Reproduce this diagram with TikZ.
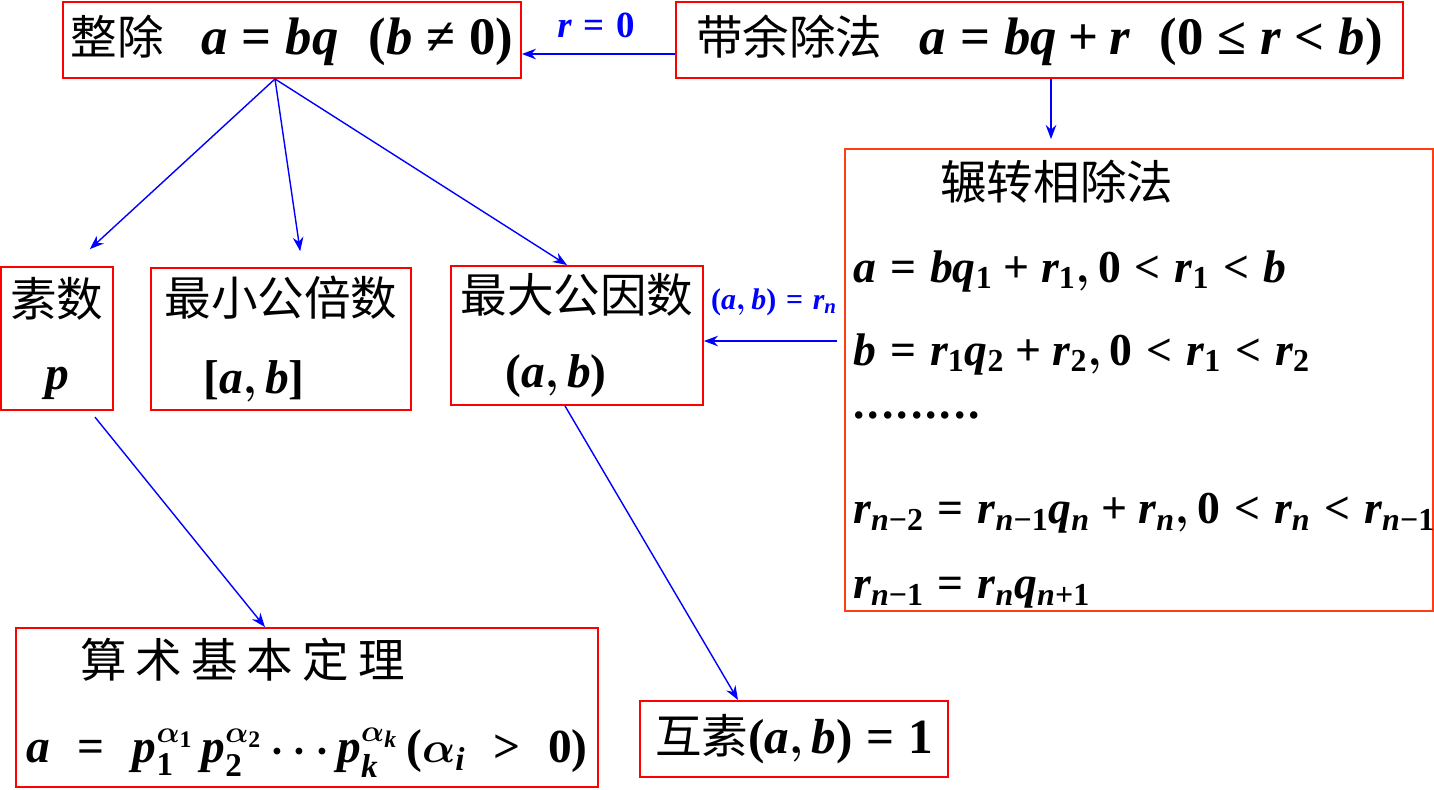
\documentclass[tikz,border=0pt]{standalone}
\usepackage{amsmath}
\usepackage[no-math]{fontspec}
\setmainfont{Liberation Serif}[NFSSFamily=libserif]
\newfontfamily\cjk{Noto Sans CJK SC}
\usetikzlibrary{arrows.meta}
\definecolor{euclidred}{RGB}{255,60,20}
%% Times-like bold math letters, digits and relations
\DeclareSymbolFont{tlet}{TU}{libserif}{bx}{it}
\DeclareSymbolFont{operators}{TU}{libserif}{bx}{n}
\DeclareMathSymbol{a}{\mathalpha}{tlet}{`a}
\DeclareMathSymbol{b}{\mathalpha}{tlet}{`b}
\DeclareMathSymbol{q}{\mathalpha}{tlet}{`q}
\DeclareMathSymbol{r}{\mathalpha}{tlet}{`r}
\DeclareMathSymbol{p}{\mathalpha}{tlet}{`p}
\DeclareMathSymbol{k}{\mathalpha}{tlet}{`k}
\DeclareMathSymbol{n}{\mathalpha}{tlet}{`n}
\DeclareMathSymbol{i}{\mathalpha}{tlet}{`i}
\DeclareMathSymbol{<}{\mathrel}{operators}{`<}
\DeclareMathSymbol{>}{\mathrel}{operators}{`>}
\Umathcode`-="2 \symoperators "2212
\Umathchardef\neq="3 \symoperators "2260
\Umathchardef\le="3 \symoperators "2264
\newcommand\zh[1]{{\cjk\fontsize{26.5}{32}\selectfont #1}}
\newcommand\dt{\textbf{.}\kern0.06cm}

\begin{document}
\begin{tikzpicture}[
    x = 0.02cm, y = -0.02cm,
    >={Stealth[length=8pt, width=6pt]},
    font = \fontsize{27}{32}\selectfont\boldmath,
    %% -- node styles ------------------------------------------
    redbox/.style = {draw=red, line width=1.1pt, inner sep=0pt, align=center},
    lbl/.style    = {text=blue, inner sep=0pt},
    big/.style    = {font=\fontsize{30}{32}\selectfont\boldmath},
    arr/.style    = {->, draw=blue, line width=0.8pt},
    arrtop/.style = {->, draw=blue, line width=1.1pt}
]
\useasboundingbox (0,0) rectangle (1434,789);

%% -- top row ------------------------------------------------
\node[redbox, big, minimum width=9.16cm, minimum height=1.52cm] (divide) at (292,40)
    {\zh{整除}\hspace{0.75cm}$a=bq\hspace{0.6cm}(b\neq 0)$};
\node[redbox, big, minimum width=14.54cm, minimum height=1.52cm] (divrem) at (1039.5,40)
    {\zh{带余除法}\hspace{0.75cm}$a=bq+r\hspace{0.6cm}(0\le r<b)$};
\node[lbl, font=\fontsize{21}{26}\selectfont\boldmath] (rzero) at (596,25) {$r=0$};

%% -- Euclid box ---------------------------------------------
\node[redbox, draw=euclidred, minimum width=11.76cm, minimum height=9.24cm] (euclid) at (1139,380) {};
\node[inner sep=0pt, anchor=north west, align=left, font=\fontsize{26}{32}\selectfont\boldmath]
    (euclidtxt) at (853,160)
    {\hspace*{1.74cm}\zh{辗转相除法}\\[0.52cm]
     $a=bq_1+r_1,0<r_1<b$\\[0.54cm]
     $b=r_1q_2+r_2,0<r_1<r_2$\\[-0.06cm]
     \dt\dt\dt\dt\dt\dt\dt\dt\dt\\[0.98cm]
     $r_{n-2}=r_{n-1}q_n+r_n,0<r_n<r_{n-1}$\\[0.38cm]
     $r_{n-1}=r_nq_{n+1}$};

%% -- middle row ---------------------------------------------
\node[redbox, minimum width=2.24cm, minimum height=2.86cm] (prime) at (57,338.5)
    {\zh{素数}\\[0.32cm]$p$};
\node[redbox, minimum width=5.2cm, minimum height=2.84cm] (lcm) at (281,339)
    {\zh{最小公倍数}\\[0.42cm]$[a,b]$\hspace*{1.08cm}};
\node[redbox, minimum width=5.04cm, minimum height=2.78cm] (gcd) at (577,335.5)
    {\zh{最大公因数}\\[0.38cm]$(a,b)$\hspace*{0.84cm}};
\node[lbl, font=\fontsize{17}{22}\selectfont\boldmath] (gcdlbl) at (774,302) {$(a,b)=r_n$};

%% -- bottom row ---------------------------------------------
\node[redbox, minimum width=11.64cm, minimum height=3.18cm] (fta) at (307,707.5)
    {\zh{算\kern0.18cm 术\kern0.18cm 基\kern0.18cm 本\kern0.18cm 定\kern0.18cm 理}\hspace*{2.58cm}\\[0.58cm]
     $a\;=\;p_1^{\alpha_1}\,p_2^{\alpha_2}\cdots p_k^{\alpha_k}\,(\alpha_i\;>\;0)$};
\node[redbox, font=\fontsize{28}{32}\selectfont\boldmath, minimum width=6.16cm, minimum height=1.52cm]
    (coprime) at (794,739) {\zh{互素}$(a,b)=1$};

%% -- arrows -------------------------------------------------
\coordinate (fork) at ([xshift=-0.34cm]divide.south);
\draw[arrtop] ([yshift=-0.28cm]divrem.west) -- ([yshift=-0.28cm]divide.east);
\draw[arrtop, shorten >=0.18cm] ([xshift=0.23cm]divrem.south) -- ([xshift=-1.76cm]euclid.north);
\draw[arr, shorten >=0.5cm]  (fork) -- ([xshift=0.29cm]prime.north);
\draw[arr, shorten >=0.32cm] (fork) -- ([xshift=0.43cm]lcm.north);
\draw[arr] (fork) -- ([xshift=-0.2cm]gcd.north);
\draw[arr, shorten <=0.14cm] ([yshift=0.78cm]euclid.west) -- ([yshift=0.78cm]euclid.west -| gcd.east);
\draw[arr, shorten <=0.16cm] ([xshift=0.66cm]prime.south) -- ([xshift=-0.84cm]fta.north);
\draw[arr] ([xshift=-0.24cm]gcd.south) -- ([xshift=-1.12cm]coprime.north);

\end{tikzpicture}
\end{document}
